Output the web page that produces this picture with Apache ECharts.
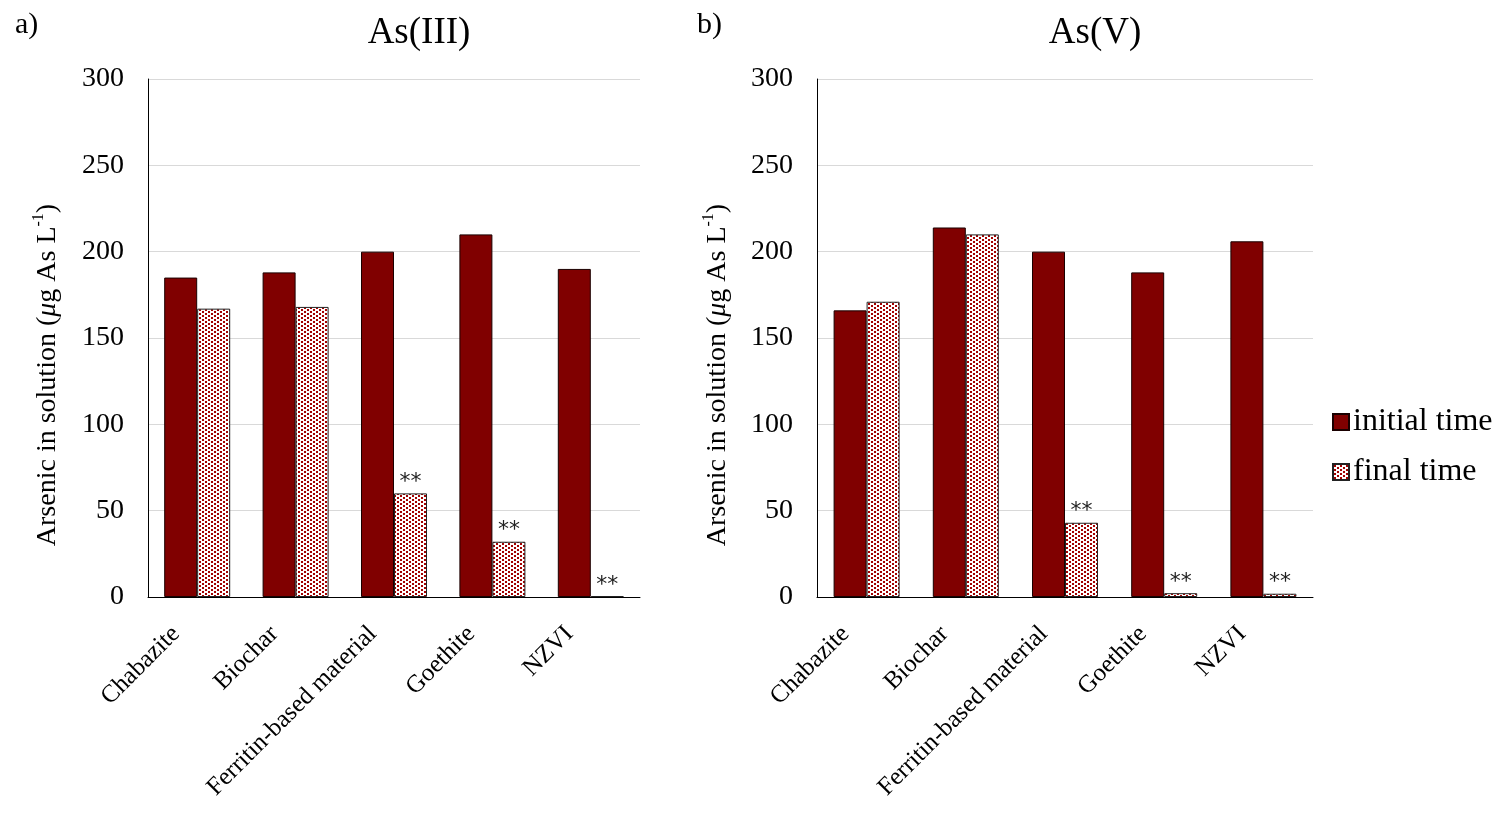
<!DOCTYPE html>
<html>
<head>
<meta charset="utf-8">
<script src="https://cdn.jsdelivr.net/npm/echarts@6/dist/echarts.min.js"></script>
<style>html,body{margin:0;padding:0;background:#fff;}#c{width:1499px;height:814px;}</style>
</head>
<body>
<div id="c"></div>
<script>
var categories = ['Chabazite', 'Biochar', 'Ferritin-based material', 'Goethite', 'NZVI'];
var asIII_initial = [185, 188, 200, 210, 190];
var asIII_final = [167, 168, 60, 32, 0.5];
var asV_initial = [166, 214, 200, 188, 206];
var asV_final = [171, 210, 43, 2.2, 1.9];
var asIII_marks = ['', '', '**', '**', '**'];
var asV_marks = ['', '', '**', '**', '**'];
var yTicks = [0, 50, 100, 150, 200, 250, 300];
var panelTitles = ['As(III)', 'As(V)'];
var panelLetters = ['a)', 'b)'];
var seriesNames = ['initial time', 'final time'];

var FONT = 'Liberation Serif';
var MAROON = '#800000';

// dotted pattern for "final time"
var pc = document.createElement('canvas');
pc.width = 6; pc.height = 8;
var px = pc.getContext('2d');
px.fillStyle = '#ffffff'; px.fillRect(0, 0, 6, 8);
px.fillStyle = '#a30000';
px.fillRect(1, 1, 2, 2);
px.fillRect(1, 5, 2, 2);
px.fillRect(4, 3, 2, 2);
px.fillRect(4, 7, 2, 1);
px.fillRect(4, 0, 2, 1);
var pattern = {image: pc, repeat: 'repeat'};

var chart = echarts.init(document.getElementById('c'));

function yAxis(gi) {
  return {
    gridIndex: gi, type: 'value', min: yTicks[0], max: yTicks[yTicks.length - 1], interval: 50,
    axisLine: {show: true, lineStyle: {color: '#000', width: 1}},
    axisTick: {show: false},
    splitLine: {lineStyle: {color: '#d9d9d9', width: 1}},
    axisLabel: {fontFamily: FONT, fontSize: 28, color: '#000', margin: 24}
  };
}
function xAxis(gi) {
  return {
    gridIndex: gi, type: 'category', data: categories,
    axisLine: {lineStyle: {color: '#000', width: 1}},
    axisTick: {show: false},
    axisLabel: {fontFamily: FONT, fontSize: 25, color: '#000', rotate: 45, margin: 12, interval: 0,
      padding: [0, 30, 0, 0]}
  };
}
function bars(gi, initial, fin, marks) {
  return [
    {
      name: seriesNames[0], type: 'bar', xAxisIndex: gi, yAxisIndex: gi, data: initial,
      barWidth: 33, barGap: '0%',
      itemStyle: {color: MAROON, borderColor: '#1a0000', borderWidth: 1}
    },
    {
      name: seriesNames[1], type: 'bar', xAxisIndex: gi, yAxisIndex: gi, data: fin,
      barWidth: 33, barGap: '0%',
      itemStyle: {color: pattern, borderColor: '#222', borderWidth: 1},
      label: {
        show: true, position: 'top', distance: 0,
        fontFamily: 'DejaVu Sans', fontSize: 22, color: '#222',
        formatter: function (p) { return marks[p.dataIndex]; }
      }
    }
  ];
}
var yName = '{t|Arsenic in solution (}{i|\u03bc}{t|g As L}{s|-1}{t|)}';
var yRich = {
  t: {fontFamily: FONT, fontSize: 28, color: '#000', lineHeight: 34},
  i: {fontFamily: FONT, fontSize: 28, color: '#000', fontStyle: 'italic', lineHeight: 34},
  s: {fontFamily: FONT, fontSize: 16, color: '#000', verticalAlign: 'top', lineHeight: 34}
};

chart.setOption({
  animation: false,
  backgroundColor: '#fff',
  title: [
    {text: panelTitles[0], left: 414, top: 10, textAlign: 'center', textStyle: {fontFamily: FONT, fontSize: 37, fontWeight: 'normal', color: '#000'}},
    {text: panelTitles[1], left: 1090, top: 10, textAlign: 'center', textStyle: {fontFamily: FONT, fontSize: 37, fontWeight: 'normal', color: '#000'}},
    {text: panelLetters[0], left: 10, top: 5, textStyle: {fontFamily: FONT, fontSize: 30, fontWeight: 'normal', color: '#000'}},
    {text: panelLetters[1], left: 692, top: 5, textStyle: {fontFamily: FONT, fontSize: 30, fontWeight: 'normal', color: '#000'}}
  ],
  legend: {
    orient: 'vertical', left: 1327, top: 401, itemGap: 18,
    itemWidth: 16, itemHeight: 16, icon: 'rect',
    data: seriesNames,
    textStyle: {fontFamily: FONT, fontSize: 32, color: '#000', padding: [0, 0, 0, -1]}
  },
  grid: [
    {left: 148, right: 1499 - 640, top: 79, bottom: 814 - 597},
    {left: 817, right: 1499 - 1313, top: 79, bottom: 814 - 597}
  ],
  xAxis: [xAxis(0), xAxis(1)],
  yAxis: [yAxis(0), yAxis(1)],
  graphic: [
    {type: 'text', x: 48, y: 375, rotation: Math.PI / 2,
      style: {text: yName, rich: yRich, align: 'center', verticalAlign: 'middle'}},
    {type: 'text', x: 718, y: 375, rotation: Math.PI / 2,
      style: {text: yName, rich: yRich, align: 'center', verticalAlign: 'middle'}}
  ],
  series: bars(0, asIII_initial, asIII_final, asIII_marks).concat(bars(1, asV_initial, asV_final, asV_marks))
});
</script>
</body>
</html>
